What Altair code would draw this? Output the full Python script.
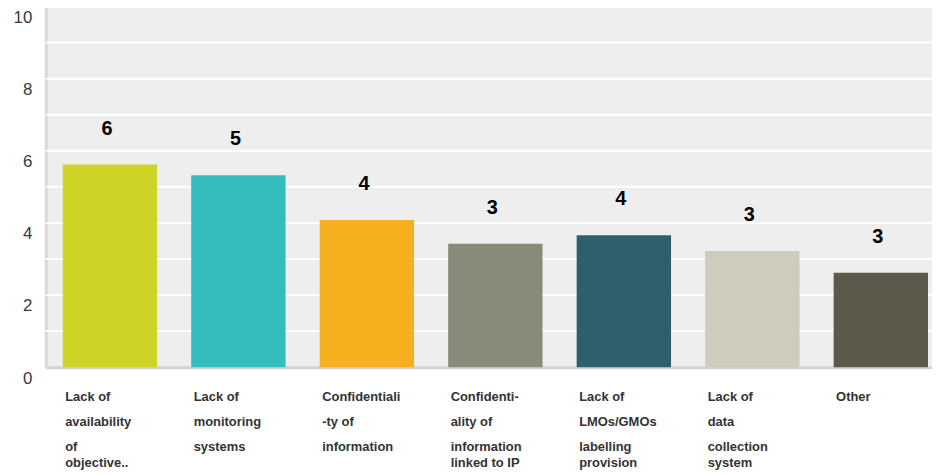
import altair as alt
import pandas as pd

# Category label lines (as wrapped in the original)
cat_lines = [
    ["Lack of", "availability", "of", "objective.."],
    ["Lack of", "monitoring", "systems"],
    ["Confidentiali", "-ty of", "information"],
    ["Confidenti-", "ality of", "information", "linked to IP"],
    ["Lack of", "LMOs/GMOs", "labelling", "provision"],
    ["Lack of", "data", "collection", "system"],
    ["Other"],
]
values = [5.62, 5.32, 4.08, 3.42, 3.66, 3.22, 2.62]
value_labels = ["6", "5", "4", "3", "4", "3", "3"]
bar_colors = ["#CED426", "#33BDBE", "#F6AF1E", "#8A8A7A", "#2E5F6D", "#CFCCBE", "#5C594A"]
y_ticks = [0, 1, 2, 3, 4, 5, 6, 7, 8, 9, 10]
grid_values = [1, 2, 3, 4, 5, 6, 7, 8, 9, 10]

cats = ["|".join(l) for l in cat_lines]
df = pd.DataFrame({
    "cat": cats,
    "value": values,
    "label": value_labels,
    "line4": [l[3] if len(l) > 3 else "" for l in cat_lines],
    "color": bar_colors,
})
grid_df = pd.DataFrame({"g": grid_values})

FONT = "Liberation Sans"

x_enc = alt.X(
    "cat:N",
    sort=cats,
    scale=alt.Scale(paddingInner=0.2655, paddingOuter=0.0815, align=0.81, round=False),
    axis=alt.Axis(
        title=None,
        labelAngle=0,
        labelAlign="left",
        labelBaseline="top",
        labelOffset=-45,
        labelPadding=24,
        labelExpr="slice(split(datum.label, '|'), 0, 3)",
        labelLineHeight=25,
        labelFont=FONT,
        labelFontWeight="bold",
        labelFontSize=13,
        labelColor="#333333",
        ticks=False,
        domainColor="#d3d3d3",
        domainWidth=3,
        grid=False,
    ),
)

y_scale = alt.Scale(domain=[0, 10], nice=False)

y_enc = alt.Y(
    "value:Q",
    scale=y_scale,
    axis=alt.Axis(
        title=None,
        values=y_ticks,
        labelExpr="datum.value % 2 == 0 ? datum.label : ''",
        labelFont=FONT,
        labelFontSize=17,
        labelColor="#3a3a3a",
        labelBaseline="middle",
        labelOffset=11,
        labelPadding=14,
        ticks=False,
        domainColor="#d8d8d8",
        domainWidth=3,
        grid=False,
    ),
)

grid = alt.Chart(grid_df).mark_rule(color="#ffffff", strokeWidth=2).encode(
    y=alt.Y("g:Q", scale=y_scale),
)

base = alt.Chart(df)

bars = base.mark_bar().encode(
    x=x_enc,
    y=y_enc,
    color=alt.Color("color:N", scale=None),
)

texts = base.mark_text(
    font=FONT, fontWeight="bold", fontSize=20, dy=-36, dx=-3,
    baseline="middle", color="#000000",
).encode(
    x=alt.X("cat:N", sort=cats),
    y=alt.Y("value:Q"),
    text="label:N",
)

line4 = base.mark_text(
    font=FONT, fontWeight="bold", fontSize=13, align="left", baseline="top",
    dx=-45, color="#333333",
).encode(
    x=alt.X("cat:N", sort=cats),
    y=alt.value(453),
    text="line4:N",
)

chart = alt.layer(grid, bars, texts, line4).properties(
    width=892,
    height=363,
    padding={"left": 38, "top": -3, "right": 0, "bottom": 104},
    autosize=alt.AutoSizeParams(type="none"),
).configure(background="#ffffff").configure_view(fill="#eeeeee", stroke=None)

chart.save("out.html", embed_options={"renderer": "svg", "actions": False})
